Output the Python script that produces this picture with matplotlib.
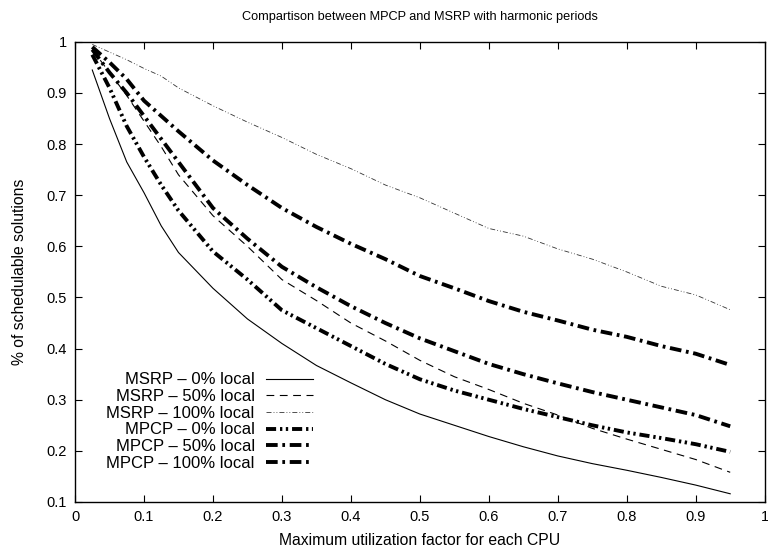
import matplotlib
matplotlib.use("Agg")
import matplotlib.pyplot as plt

plt.rcParams['font.family'] = ['Liberation Sans', 'DejaVu Sans']

# utilization factor (x) values
util = [0.025, 0.05, 0.075, 0.1, 0.125, 0.15, 0.2, 0.25, 0.3, 0.35, 0.4,
        0.45, 0.5, 0.55, 0.6, 0.65, 0.7, 0.75, 0.8, 0.85, 0.9, 0.95]

# fraction of schedulable solutions
msrp_0 = [0.945, 0.85, 0.765, 0.705, 0.64, 0.588, 0.518, 0.458, 0.41, 0.367, 0.333,
          0.3, 0.272, 0.25, 0.228, 0.208, 0.19, 0.175, 0.162, 0.148, 0.133, 0.116]
msrp_50 = [0.985, 0.94, 0.895, 0.845, 0.795, 0.74, 0.66, 0.6, 0.535, 0.494, 0.45,
           0.415, 0.377, 0.345, 0.32, 0.293, 0.27, 0.244, 0.223, 0.203, 0.183, 0.158]
msrp_100 = [0.995, 0.98, 0.965, 0.948, 0.933, 0.91, 0.875, 0.843, 0.813, 0.78, 0.752,
            0.72, 0.695, 0.665, 0.635, 0.62, 0.595, 0.575, 0.55, 0.522, 0.505, 0.476]
mpcp_0 = [0.975, 0.91, 0.835, 0.775, 0.72, 0.67, 0.59, 0.535, 0.475, 0.44, 0.405,
          0.37, 0.34, 0.318, 0.3, 0.282, 0.266, 0.25, 0.236, 0.225, 0.213, 0.198]
mpcp_50 = [0.985, 0.94, 0.9, 0.855, 0.81, 0.765, 0.675, 0.615, 0.56, 0.52, 0.483,
           0.45, 0.42, 0.395, 0.37, 0.35, 0.332, 0.315, 0.3, 0.285, 0.27, 0.248]
mpcp_100 = [0.99, 0.96, 0.927, 0.885, 0.855, 0.825, 0.768, 0.72, 0.675, 0.638, 0.605,
            0.575, 0.542, 0.518, 0.493, 0.472, 0.455, 0.437, 0.423, 0.405, 0.39, 0.368]

fig = plt.figure(figsize=(7.68, 5.51), dpi=100)
ax = fig.add_axes([0.0977, 0.089, 0.898, 0.835])

ax.plot(util, msrp_0, color='black', lw=0.8, label="MSRP \u2013 0% local")
ax.plot(util, msrp_50, color='black', lw=0.8, dashes=(7, 5), label="MSRP \u2013 50% local")
ax.plot(util, msrp_100, color='#333333', lw=0.6, dashes=(6, 2.5, 1, 2.5, 1, 2.5),
        label="MSRP \u2013 100% local")
ax.plot(util, mpcp_0, color='black', lw=2.8, dashes=(2.6, 1.0, 0.6, 0.9, 0.6, 1.0),
        dash_capstyle='butt', label="MPCP \u2013 0% local")
ax.plot(util, mpcp_50, color='black', lw=2.8, dashes=(3.0, 1.2, 0.7, 1.2),
        dash_capstyle='butt', label="MPCP \u2013 50% local")
ax.plot(util, mpcp_100, color='black', lw=2.8, dashes=(3.0, 1.2, 0.7, 1.2),
        dash_capstyle='butt', label="MPCP \u2013 100% local")

ax.set_xlim(0, 1)
ax.set_ylim(0.1, 1)
ax.set_xticks([0, 0.1, 0.2, 0.3, 0.4, 0.5, 0.6, 0.7, 0.8, 0.9, 1])
ax.set_xticklabels(["0", "0.1", "0.2", "0.3", "0.4", "0.5", "0.6", "0.7", "0.8", "0.9", "1"])
ax.set_yticks([0.1, 0.2, 0.3, 0.4, 0.5, 0.6, 0.7, 0.8, 0.9, 1])
ax.set_yticklabels(["0.1", "0.2", "0.3", "0.4", "0.5", "0.6", "0.7", "0.8", "0.9", "1"])
ax.tick_params(direction='in', length=5, width=0.8, top=True, right=True,
               labelsize=10.5, pad=6)
for s in ax.spines.values():
    s.set_linewidth(1.0)

ax.set_title("Compartison between MPCP and MSRP with harmonic periods", fontsize=9.2, pad=16)
ax.set_xlabel("Maximum utilization factor for each CPU", fontsize=11.3, labelpad=6)
ax.set_ylabel("% of schedulable solutions", fontsize=11.3, labelpad=14)

ax.legend(loc='lower right', bbox_to_anchor=(0.345, 0.068), frameon=False, markerfirst=False,
          fontsize=12, handlelength=2.8, handletextpad=0.7, labelspacing=0.1,
          borderaxespad=0, borderpad=0)

plt.savefig("out.png", dpi=100)
